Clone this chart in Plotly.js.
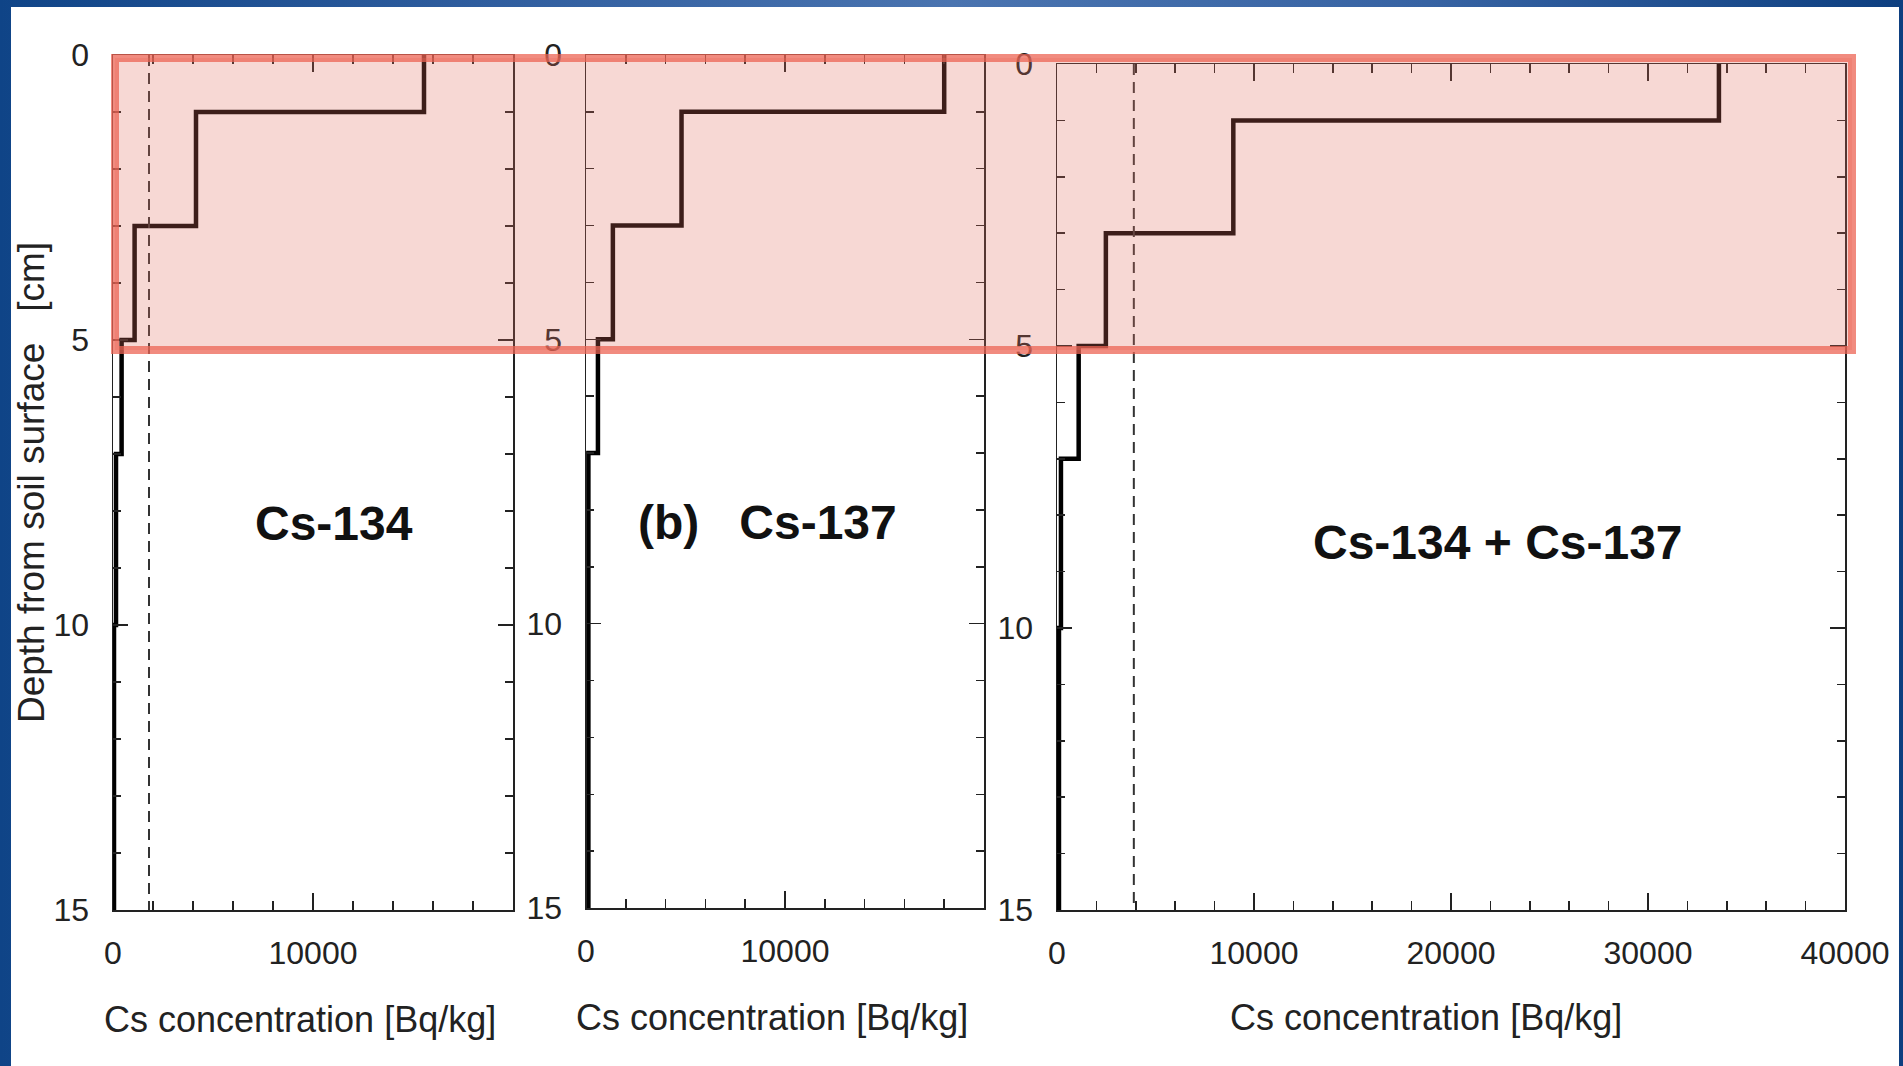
<!DOCTYPE html>
<html><head><meta charset="utf-8">
<script src="https://cdn.plot.ly/plotly-3.0.1.min.js"></script>
<style>
html,body{margin:0;padding:0;width:1903px;height:1066px;overflow:hidden;
background:linear-gradient(90deg,#0f4487 0%,#2f5d9e 25%,#4a74b0 50%,#3763a3 75%,#0d3f80 100%);}
#chart{position:absolute;left:11px;top:7px;width:1888px;height:1059px;background:#fff;}
</style></head><body><div id="chart"></div>
<script>
// ---- data ----
const depthTop    = [0, 1, 3, 5, 7, 10];
const depthBottom = [1, 3, 5, 7, 10, 15];
const cs134   = [15550, 4150, 1080, 430, 150, 50];
const cs137   = [18000, 4800, 1350, 600, 120, 120];
const csTotal = [33600, 8950, 2480, 1100, 200, 100];
const limit134   = 1800;
const limitTotal = 3900;
const depthTicks = [0, 5, 10, 15];
const xTicksSingle = [0, 10000];
const xTicksTotal  = [0, 10000, 20000, 30000, 40000];
const panelLabels = ['Cs-134', '(b)\u00a0\u00a0\u00a0Cs-137', 'Cs-134 + Cs-137'];
const xTitle = 'Cs concentration [Bq/kg]';
const yTitle = 'Depth from soil surface\u00a0\u00a0\u00a0[cm]';

// ---- layout helpers (pixel -> paper) ----
const W = 1888, H = 1059, OX = 11, OY = 7;
const px = p => (p - OX) / W;
const py = p => 1 - (p - OY) / H;

function stepXY(vals) {
  const x = [], y = [];
  vals.forEach((v, i) => { x.push(v, v); y.push(depthTop[i], depthBottom[i]); });
  return {x, y};
}

const textFont = '"Liberation Sans", Arial, sans-serif';
const axisCol = '#222';

function xAxis(domain, range, tickvals, anchor) {
  return {
    domain, range, tickvals, anchor,
    ticktext: tickvals.map(String),
    showline: true, linecolor: axisCol, linewidth: 1.5, mirror: 'allticks',
    ticks: 'inside', ticklen: 17, tickwidth: 1.5, tickcolor: axisCol,
    minor: {dtick: 2000, tick0: 0, ticks: 'inside', ticklen: 9, tickwidth: 1.5, tickcolor: axisCol},
    showgrid: false, zeroline: false, fixedrange: true,
    tickfont: {family: textFont, size: 32, color: '#222'},
    ticklabelstandoff: 14
  };
}
function yAxis(domain, anchor, withTitle) {
  const a = {
    domain, anchor, range: [15, 0], tickvals: depthTicks,
    showline: true, linecolor: axisCol, linewidth: 1.5, mirror: 'allticks',
    ticks: 'inside', ticklen: 15, tickwidth: 1.5, tickcolor: axisCol,
    minor: {dtick: 1, tick0: 0, ticks: 'inside', ticklen: 8, tickwidth: 1.5, tickcolor: axisCol},
    showgrid: false, zeroline: false, fixedrange: true,
    tickfont: {family: textFont, size: 32, color: '#222'},
    ticklabelstandoff: 16
  };
  if (withTitle) a.title = {text: yTitle, font: {family: textFont, size: 37, color: '#222'}, standoff: 0};
  return a;
}

const s1 = stepXY(cs134), s2 = stepXY(cs137), s3 = stepXY(csTotal);
const stepLine = {color: '#000', width: 4.5};
const dashLine = {color: '#333', width: 2, dash: '11px,7px'};

const traces = [
  {x: s1.x, y: s1.y, xaxis: 'x', yaxis: 'y', mode: 'lines', line: stepLine, hoverinfo: 'skip'},
  {x: [limit134, limit134], y: [0, 15], xaxis: 'x', yaxis: 'y', mode: 'lines', line: dashLine, hoverinfo: 'skip'},
  {x: s2.x, y: s2.y, xaxis: 'x2', yaxis: 'y2', mode: 'lines', line: stepLine, hoverinfo: 'skip'},
  {x: s3.x, y: s3.y, xaxis: 'x3', yaxis: 'y3', mode: 'lines', line: stepLine, hoverinfo: 'skip'},
  {x: [limitTotal, limitTotal], y: [0, 15], xaxis: 'x3', yaxis: 'y3', mode: 'lines', line: dashLine, hoverinfo: 'skip'}
];

const labelFont = {family: textFont, size: 48, color: '#111', weight: 'bold'};
const labelPos = [[334, 524], [767, 522], [1498, 542]];
const xTitlePos = [[300, 1019], [772, 1017], [1426, 1017]];

const annotations = panelLabels.map((t, i) => ({
  text: '<b>' + t + '</b>', xref: 'paper', yref: 'paper',
  x: px(labelPos[i][0]), y: py(labelPos[i][1]), xanchor: 'center', yanchor: 'middle',
  showarrow: false, font: labelFont
})).concat(xTitlePos.map(p => ({
  text: xTitle, xref: 'paper', yref: 'paper',
  x: px(p[0]), y: py(p[1]), xanchor: 'center', yanchor: 'middle',
  showarrow: false, font: {family: textFont, size: 36, color: '#222'}
})));

const layout = {
  width: W, height: H,
  margin: {l: 0, r: 0, t: 0, b: 0},
  paper_bgcolor: '#ffffff', plot_bgcolor: 'rgba(0,0,0,0)',
  showlegend: false,
  xaxis:  xAxis([px(113), px(513)], [0, 20000], xTicksSingle, 'y'),
  yaxis:  yAxis([py(910), py(55)], 'x', true),
  xaxis2: xAxis([px(586), px(984)], [0, 20000], xTicksSingle, 'y2'),
  yaxis2: yAxis([py(908), py(55)], 'x2', false),
  xaxis3: xAxis([px(1057), px(1845)], [0, 40000], xTicksTotal, 'y3'),
  yaxis3: yAxis([py(910), py(64)], 'x3', false),
  annotations,
  shapes: [{
    type: 'rect', xref: 'paper', yref: 'paper', layer: 'above',
    x0: px(115), x1: px(1852), y0: py(350), y1: py(58),
    fillcolor: 'rgba(225,110,95,0.27)',
    line: {color: 'rgba(236,100,84,0.75)', width: 8}
  }]
};

Plotly.newPlot('chart', traces, layout, {displayModeBar: false, staticPlot: true});
</script></body></html>
